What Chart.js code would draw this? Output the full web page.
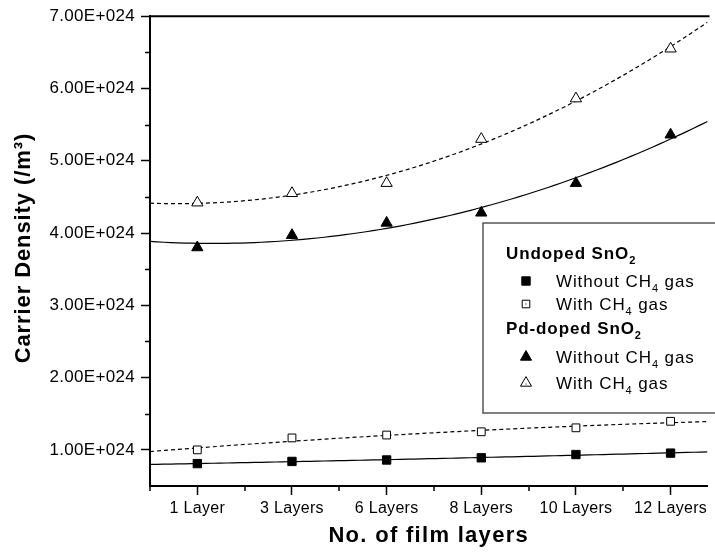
<!DOCTYPE html>
<html><head><meta charset="utf-8">
<script src="https://cdn.jsdelivr.net/npm/chart.js@4.4.1/dist/chart.umd.min.js"></script>
<style>html,body{margin:0;padding:0;background:#fff;}#wrap{width:715px;height:552px;}</style>
</head><body><div id="wrap"><canvas id="c" width="715" height="552"></canvas></div>
<script>
// ---- data (carrier density, /m^3) ----
const categories = ['1 Layer', '3 Layers', '6 Layers', '8 Layers', '10 Layers', '12 Layers'];
const undopedWithout = [0.81e24, 0.84e24, 0.86e24, 0.89e24, 0.935e24, 0.955e24];
const undopedWith    = [1.00e24, 1.165e24, 1.205e24, 1.25e24, 1.305e24, 1.395e24];
const pdWithout      = [3.80e24, 3.97e24, 4.14e24, 4.28e24, 4.69e24, 5.36e24];
const pdWith         = [4.42e24, 4.55e24, 4.69e24, 5.30e24, 5.86e24, 6.55e24];
const yTickValues = [1e24, 2e24, 3e24, 4e24, 5e24, 6e24, 7e24];
const yTickLabels = ['1.00E+024', '2.00E+024', '3.00E+024', '4.00E+024', '5.00E+024', '6.00E+024', '7.00E+024'];
const yMinorValues = [1.5e24, 2.5e24, 3.5e24, 4.5e24, 5.5e24, 6.5e24];
const xRange = [-0.5, 5.39];
const yRange = [0.5e24, 7e24];
const xTitle = 'No. of film layers';
const yTitle = 'Carrier Density (/m\u00B3)';
const groupTitles = [['Undoped SnO', '2'], ['Pd-doped SnO', '2']];
const itemLabels = [['Without CH', '4', ' gas'], ['With CH', '4', ' gas']];

// ---- quadratic least-squares fit computed from the data ----
function quadFit(ys) {
  const xs = ys.map((_, i) => i);
  const s = ys.map(v => v / 1e24);
  let S = [0,0,0,0,0], T = [0,0,0];
  xs.forEach((x, i) => { for (let k = 0; k < 5; k++) S[k] += Math.pow(x, k); for (let k = 0; k < 3; k++) T[k] += Math.pow(x, k) * s[i]; });
  const A = [[S[0],S[1],S[2],T[0]],[S[1],S[2],S[3],T[1]],[S[2],S[3],S[4],T[2]]];
  for (let i = 0; i < 3; i++) { for (let j = i+1; j < 3; j++) { const f = A[j][i]/A[i][i]; for (let k = i; k < 4; k++) A[j][k] -= f*A[i][k]; } }
  const c = [0,0,0];
  for (let i = 2; i >= 0; i--) { let v = A[i][3]; for (let k = i+1; k < 3; k++) v -= A[i][k]*c[k]; c[i] = v/A[i][i]; }
  const pts = [];
  const n = 80;
  for (let i = 0; i <= n; i++) { const x = xRange[0] + (xRange[1]-xRange[0]) * i / n; pts.push({x, y: (c[0] + c[1]*x + c[2]*x*x) * 1e24}); }
  return pts;
}
const toPts = ys => ys.map((v, i) => ({x: i, y: v}));

const FONT = "'Liberation Sans', Arial, sans-serif";

const spacingPlugin = {
  id: 'spacing',
  beforeDraw(chart) { chart.ctx.letterSpacing = '0.3px'; }
};

const framePlugin = {
  id: 'frame',
  afterDraw(chart) {
    const ctx = chart.ctx, a = chart.chartArea;
    const xs = chart.scales.x, ys = chart.scales.y;
    ctx.save();
    ctx.strokeStyle = '#000';
    ctx.lineWidth = 2;
    ctx.beginPath(); ctx.moveTo(a.left - 1, a.top); ctx.lineTo(a.right + 2, a.top); ctx.stroke();
    // minor ticks
    ctx.lineWidth = 1.5;
    ctx.beginPath();
    yMinorValues.forEach(v => { const p = Math.round(ys.getPixelForValue(v)) + 0.5; ctx.moveTo(a.left - 5, p); ctx.lineTo(a.left, p); });
    for (let i = 0; i <= categories.length; i++) { const p = Math.round(xs.getPixelForValue(i - 0.5)); if (p <= a.right) { ctx.moveTo(p, a.bottom); ctx.lineTo(p, a.bottom + 5); } }
    ctx.stroke();
    // axis titles
    ctx.fillStyle = '#000';
    ctx.textAlign = 'center'; ctx.textBaseline = 'middle';
    ctx.font = 'bold 22px ' + FONT;
    ctx.letterSpacing = '1.3px';
    ctx.fillText(xTitle, (a.left + a.right) / 2, 536);
    ctx.translate(24, (a.top + a.bottom) / 2 - 3);
    ctx.rotate(-Math.PI / 2);
    ctx.letterSpacing = '0.9px';
    ctx.fillText(yTitle, 0, 0);
    ctx.restore();
  }
};

function drawSym(ctx, type, filled, x, y) {
  ctx.save();
  ctx.strokeStyle = '#000'; ctx.fillStyle = filled ? '#000' : '#fff'; ctx.lineWidth = 1;
  ctx.beginPath();
  if (type === 'rect') { const h = filled ? 4.2 : 3.8; ctx.rect(x - h, y - h, 2*h, 2*h); }
  else { const r = 6.4; ctx.moveTo(x, y - r); ctx.lineTo(x + r*0.866, y + r*0.5); ctx.lineTo(x - r*0.866, y + r*0.5); ctx.closePath(); }
  ctx.fill(); ctx.stroke();
  if (!filled) { ctx.fillStyle = '#000'; ctx.fillRect(x - 0.5, y - 0.5 + (type === 'rect' ? 0 : 1), 1, 1); }
  ctx.restore();
}
function drawRich(ctx, parts, x, y, size, bold) {
  const f = (s) => (bold ? 'bold ' : '') + s + 'px ' + FONT;
  parts.forEach((p, i) => {
    const sub = (i % 2) === 1;
    ctx.font = f(sub ? Math.round(size * 0.65) : size);
    ctx.fillText(p, x, sub ? y + 5 : y);
    x += ctx.measureText(p).width;
  });
}
const legendPlugin = {
  id: 'customLegend',
  afterDraw(chart) {
    const ctx = chart.ctx;
    ctx.save();
    ctx.fillStyle = '#fff';
    ctx.fillRect(483, 223, 240, 190);
    ctx.strokeStyle = '#555'; ctx.lineWidth = 1.5;
    ctx.strokeRect(483, 223, 240, 190);
    ctx.fillStyle = '#000'; ctx.textBaseline = 'alphabetic'; ctx.textAlign = 'left';
    ctx.letterSpacing = '0.9px';
    const rows = [
      {t: 'g', g: 0, y: 259},
      {t: 'i', i: 0, sym: 'rect', filled: true, y: 287},
      {t: 'i', i: 1, sym: 'rect', filled: false, y: 310},
      {t: 'g', g: 1, y: 334},
      {t: 'i', i: 0, sym: 'tri', filled: true, y: 363},
      {t: 'i', i: 1, sym: 'tri', filled: false, y: 389}
    ];
    rows.forEach(r => {
      ctx.fillStyle = '#000';
      if (r.t === 'g') drawRich(ctx, groupTitles[r.g], 506, r.y, 17, true);
      else { drawSym(ctx, r.sym, r.filled, 526, r.y - 6); ctx.fillStyle = '#000'; drawRich(ctx, itemLabels[r.i], 556, r.y, 17, false); }
    });
    ctx.restore();
  }
};

const markerBase = {type: 'scatter', showLine: false, borderColor: '#000', borderWidth: 1, order: 0};
const fitBase = {type: 'line', pointRadius: 0, borderColor: '#000', borderWidth: 1.2, tension: 0, order: 1, fill: false};

new Chart(document.getElementById('c'), {
  type: 'scatter',
  data: {
    datasets: [
      Object.assign({}, fitBase, {label: 'fit1', data: quadFit(undopedWithout)}),
      Object.assign({}, fitBase, {label: 'fit2', data: quadFit(undopedWith), borderDash: [4, 3]}),
      Object.assign({}, fitBase, {label: 'fit3', data: quadFit(pdWithout)}),
      Object.assign({}, fitBase, {label: 'fit4', data: quadFit(pdWith), borderDash: [4, 3]}),
      Object.assign({}, markerBase, {label: 'Undoped SnO2 Without CH4 gas', data: toPts(undopedWithout), pointStyle: 'rect', pointRadius: 5.9, backgroundColor: '#000'}),
      Object.assign({}, markerBase, {label: 'Undoped SnO2 With CH4 gas', data: toPts(undopedWith), pointStyle: 'rect', pointRadius: 5.5, backgroundColor: '#fff'}),
      Object.assign({}, markerBase, {label: 'Pd-doped SnO2 Without CH4 gas', data: toPts(pdWithout), pointStyle: 'triangle', pointRadius: 6.5, backgroundColor: '#000'}),
      Object.assign({}, markerBase, {label: 'Pd-doped SnO2 With CH4 gas', data: toPts(pdWith), pointStyle: 'triangle', pointRadius: 6.5, backgroundColor: '#fff'})
    ]
  },
  options: {
    responsive: false, animation: false, devicePixelRatio: 1,
    layout: {padding: {top: 15, left: 0, right: 0, bottom: 0}},
    plugins: {legend: {display: false}, tooltip: {enabled: false}},
    scales: {
      x: {
        type: 'linear', min: xRange[0], max: xRange[1],
        afterBuildTicks: s => { s.ticks = categories.map((c, i) => ({value: i})); },
        afterFit: s => { s.height = 66; },
        ticks: {callback: v => categories[v], color: '#000', font: {family: FONT, size: 16}, padding: 4, maxRotation: 0, autoSkip: false},
        grid: {drawOnChartArea: false, tickLength: 9, tickColor: '#000', tickWidth: 1.5},
        border: {color: '#000', width: 2},
        title: {display: false}
      },
      y: {
        type: 'linear', min: yRange[0], max: yRange[1],
        afterBuildTicks: s => { s.ticks = yTickValues.map(v => ({value: v})); },
        afterFit: s => { s.width = 150; },
        ticks: {callback: (v, i) => yTickLabels[yTickValues.indexOf(v)], color: '#000', font: {family: FONT, size: 17}, padding: 6},
        grid: {drawOnChartArea: false, tickLength: 9, tickColor: '#000', tickWidth: 1.5},
        border: {color: '#000', width: 2},
        title: {display: false}
      }
    }
  },
  plugins: [spacingPlugin, framePlugin, legendPlugin]
});
</script>
</body></html>
